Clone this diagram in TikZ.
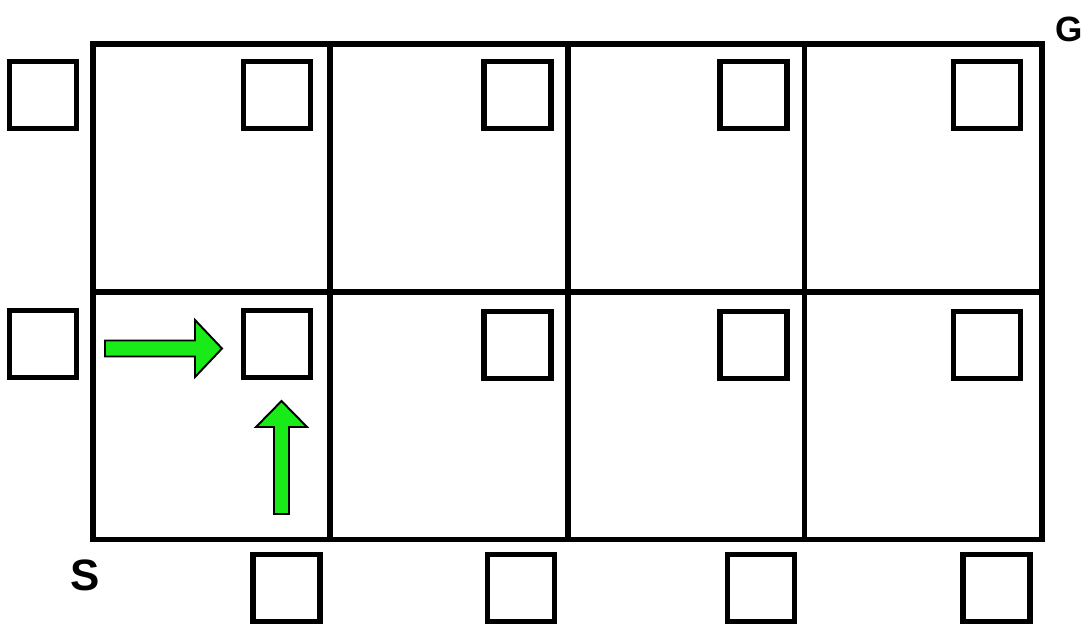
\documentclass[tikz,border=0pt]{standalone}
\usepackage{fontspec}
\setsansfont{Liberation Sans}
\definecolor{arrowgreen}{RGB}{25,235,25}
\tikzset{
	cell/.style={draw, line width=0.105cm, line join=miter},
	box/.style={draw, rectangle, line width=0.105cm, minimum size=1.34cm, inner sep=0pt},
	greenarrow/.style={draw, fill=arrowgreen, line width=1.1pt, line join=miter},
	lbl/.style={inner sep=0pt, anchor=base west}
}
\begin{document}
\begin{tikzpicture}[x=0.02cm, y=-0.02cm]
				\useasboundingbox (0,0) rectangle (1082,623);
				\draw[cell] (93,44) rectangle (1042,539.5);
				\draw[cell] (93,292)--(1042,292);
				\draw[cell] (330,44)--(330,539.5);
				\draw[cell] (568,44)--(568,539.5);
				\draw[cell] (804.5,44)--(804.5,539.5);
				\node[box] (t0) at (43,95) {};
				\node[box] (t1) at (277,95) {};
				\node[box] (t2) at (517.5,95) {};
				\node[box] (t3) at (753.5,95) {};
				\node[box] (t4) at (987,95) {};
				\node[box] (m0) at (43,344) {};
				\node[box] (m1) at (277,344) {};
				\node[box] (m2) at (517.5,345) {};
				\node[box] (m3) at (753.5,345) {};
				\node[box] (m4) at (987,345) {};
				\node[box] (b1) at (286.5,588) {};
				\node[box] (b2) at (521,588) {};
				\node[box] (b3) at (761,588) {};
				\node[box] (b4) at (996.5,588) {};
				\draw[greenarrow] (105,340.5)--(195,340.5)--(195,320)--(222,348.5)--(195,377)--(195,356.5)--(105,356.5)--cycle;
				\draw[greenarrow] (274,514)--(274,427)--(256,427)--(281.5,401)--(307,427)--(289,427)--(289,514)--cycle;
				\node[lbl, font=\sffamily\bfseries\fontsize{25}{27}\selectfont] (S) at (70,590) {S};
				\node[lbl, font=\sffamily\bfseries\fontsize{20}{22}\selectfont] (G) at (1055,41) {G};
\end{tikzpicture}
\end{document}
